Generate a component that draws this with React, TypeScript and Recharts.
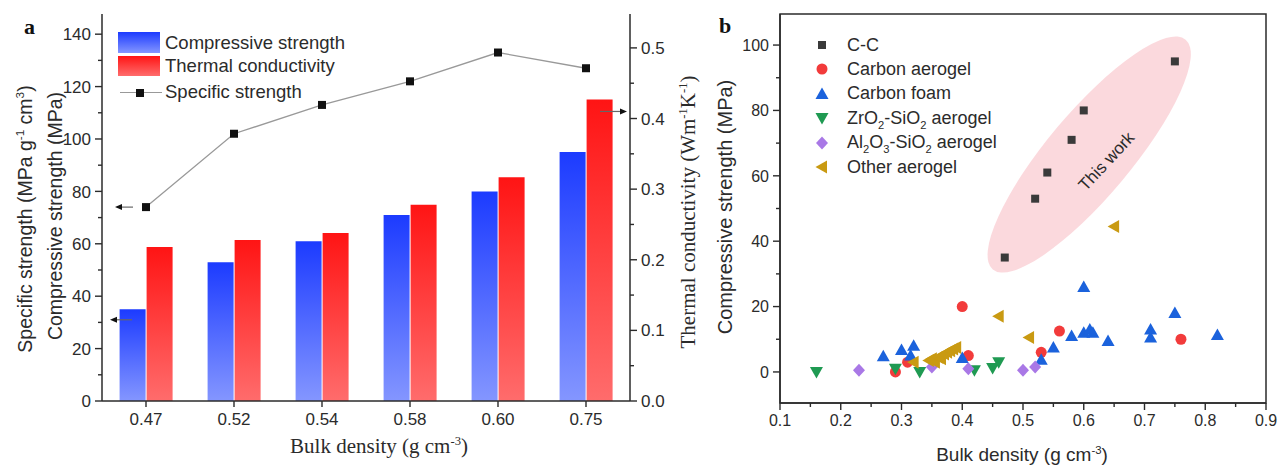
import React from "react";
import {
  ComposedChart,
  Bar,
  Line,
  XAxis,
  YAxis,
  ScatterChart,
  Scatter,
  ReferenceDot,
  ReferenceArea,
} from "recharts";

const SANS = "'Liberation Sans', Arial, sans-serif";
const SERIF = "'Liberation Serif', 'Times New Roman', serif";
const INK = "#2b2b2b";

// ---- panel a ----
const densities = ["0.47", "0.52", "0.54", "0.58", "0.60", "0.75"];
const compressive = [35, 53, 61, 71, 80, 95];
const thermal = [0.218, 0.228, 0.238, 0.278, 0.317, 0.427];
const specific = [74, 102, 113, 122, 133, 127];
const leftTicks = [0, 10, 20, 30, 40, 50, 60, 70, 80, 90, 100, 110, 120, 130, 140];
const rightTicks = [0, 0.05, 0.1, 0.15, 0.2, 0.25, 0.3, 0.35, 0.4, 0.45, 0.5];

// ---- panel b ----  [density, strength]
const ccPts = [[0.47, 35], [0.52, 53], [0.54, 61], [0.58, 71], [0.6, 80], [0.75, 95]];
const carbonAerogelPts = [[0.29, 0], [0.31, 3], [0.4, 20], [0.41, 5], [0.53, 6], [0.56, 12.5], [0.76, 10]];
const carbonFoamPts = [
  [0.27, 4.8], [0.3, 6.7], [0.315, 5], [0.32, 8], [0.4, 4.3], [0.53, 3.7], [0.55, 7.5],
  [0.58, 11], [0.6, 26], [0.6, 12], [0.61, 13], [0.615, 12], [0.64, 9.5], [0.71, 13],
  [0.71, 10.5], [0.75, 18], [0.82, 11.3],
];
const zrSiPts = [[0.16, 0], [0.29, 1], [0.33, 0], [0.42, 0.5], [0.45, 1.2], [0.46, 3]];
const alSiPts = [[0.23, 0.5], [0.35, 1.5], [0.41, 1], [0.5, 0.5], [0.52, 1.5]];
const otherPts = [
  [0.32, 3], [0.345, 3.5], [0.35, 4], [0.355, 3], [0.36, 4.5], [0.365, 4], [0.37, 5.5],
  [0.375, 6], [0.38, 6.5], [0.385, 7], [0.39, 7.5], [0.46, 17], [0.51, 10.5], [0.65, 44.5],
];
const xTicksB = [0.1, 0.15, 0.2, 0.25, 0.3, 0.35, 0.4, 0.45, 0.5, 0.55, 0.6, 0.65, 0.7, 0.75, 0.8, 0.85, 0.9];
const yTicksB = [0, 10, 20, 30, 40, 50, 60, 70, 80, 90, 100];

const barData = densities.map((d, i) => ({
  density: d,
  compressive: compressive[i],
  thermal: thermal[i],
  specific: specific[i],
}));

const toXY = (pts: number[][]) => pts.map(([x, y]) => ({ x, y }));

const COLORS = {
  cc: "#3a3a3a",
  carbonAerogel: "#f23b3b",
  carbonFoam: "#1b62dc",
  zrSi: "#1f9a52",
  alSi: "#a978e6",
  other: "#c99a12",
};

type Kind = "square" | "circle" | "up" | "down" | "diamond" | "left";

function Marker({ kind, cx, cy, color }: { kind: Kind; cx: number; cy: number; color: string }) {
  switch (kind) {
    case "square":
      return <rect x={cx - 4} y={cy - 4} width={8} height={8} fill={color} />;
    case "circle":
      return <circle cx={cx} cy={cy} r={5.5} fill={color} />;
    case "up":
      return <polygon points={`${cx},${cy - 6.5} ${cx - 6.5},${cy + 5} ${cx + 6.5},${cy + 5}`} fill={color} />;
    case "down":
      return <polygon points={`${cx},${cy + 6.5} ${cx - 6.5},${cy - 5} ${cx + 6.5},${cy - 5}`} fill={color} />;
    case "diamond":
      return <polygon points={`${cx},${cy - 6.5} ${cx + 6},${cy} ${cx},${cy + 6.5} ${cx - 6},${cy}`} fill={color} />;
    case "left":
      return <polygon points={`${cx - 6.5},${cy} ${cx + 5},${cy - 6.5} ${cx + 5},${cy + 6.5}`} fill={color} />;
  }
}

// vertical axis ticks (major with label, minor without)
function vTick(side: "left" | "right", isMajor: (v: number) => boolean, fmt: (v: number) => string, fontSize: number) {
  return (props: any) => {
    const { x, y, payload } = props;
    const v = payload.value as number;
    const major = isMajor(v);
    const len = major ? 7 : 4;
    const dir = side === "left" ? -1 : 1;
    return (
      <g>
        <line x1={x} y1={y} x2={x + dir * len} y2={y} stroke={INK} strokeWidth={1.4} />
        {major && (
          <text
            x={x + dir * (len + 4)}
            y={y}
            dy="0.36em"
            textAnchor={side === "left" ? "end" : "start"}
            fontSize={fontSize}
            fontFamily={SANS}
            fill={INK}
          >
            {fmt(v)}
          </text>
        )}
      </g>
    );
  };
}

function hTick(isMajor: (v: number) => boolean, fmt: (v: number) => string, fontSize: number) {
  return (props: any) => {
    const { x, y, payload } = props;
    const v = payload.value as number;
    const major = isMajor(v);
    const len = major ? 7 : 4;
    return (
      <g>
        <line x1={x} y1={y} x2={x} y2={y + len} stroke={INK} strokeWidth={1.4} />
        {major && (
          <text x={x} y={y + len + 4} dy="0.76em" textAnchor="middle" fontSize={fontSize} fontFamily={SANS} fill={INK}>
            {fmt(v)}
          </text>
        )}
      </g>
    );
  };
}

const arrow = (from: number, to: number) => (p: any) => {
  const y = p.cy;
  const x1 = p.cx + from;
  const x2 = p.cx + to;
  const dir = Math.sign(x2 - x1);
  return (
    <g>
      <line x1={x1} y1={y} x2={x2 - dir * 4} y2={y} stroke="#666" strokeWidth={1.2} />
      <polygon points={`${x2},${y} ${x2 - dir * 7},${y - 3} ${x2 - dir * 7},${y + 3}`} fill="#111" />
    </g>
  );
};

const sup = (t: string) => <sup style={{ fontSize: "0.6em", lineHeight: 0 }}>{t}</sup>;
const sub = (t: string) => <sub style={{ fontSize: "0.62em", lineHeight: 0 }}>{t}</sub>;

function Rotated({ x, y, children, style }: { x: number; y: number; children: React.ReactNode; style?: React.CSSProperties }) {
  return (
    <div
      style={{
        position: "absolute",
        left: x,
        top: y,
        transform: "translate(-50%, -50%) rotate(-90deg)",
        whiteSpace: "nowrap",
        color: INK,
        ...style,
      }}
    >
      {children}
    </div>
  );
}

function PanelA() {
  return (
    <div style={{ position: "absolute", left: 0, top: 0, width: 720, height: 468 }}>
      <ComposedChart
        width={720}
        height={468}
        data={barData}
        margin={{ top: 14, right: 0, bottom: 0, left: 0 }}
        barCategoryGap="20%"
        barGap={1}
      >
        <defs>
          <linearGradient id="gBlue" x1="0" y1="0" x2="0" y2="1">
            <stop offset="0%" stopColor="#1c3bff" />
            <stop offset="100%" stopColor="#8496ff" />
          </linearGradient>
          <linearGradient id="gRed" x1="0" y1="0" x2="0" y2="1">
            <stop offset="0%" stopColor="#ff1414" />
            <stop offset="100%" stopColor="#ff6c6c" />
          </linearGradient>
        </defs>
        <XAxis
          dataKey="density"
          height={67}
          tickSize={6}
          tickMargin={6}
          axisLine={{ stroke: INK, strokeWidth: 1.5 }}
          tickLine={{ stroke: INK, strokeWidth: 1.4 }}
          tick={{ fontSize: 17, fontFamily: SANS, fill: INK }}
          interval={0}
        />
        <XAxis
          xAxisId="top"
          dataKey="density"
          orientation="top"
          height={0}
          tick={false}
          tickLine={false}
          axisLine={{ stroke: INK, strokeWidth: 1.5 }}
        />
        <YAxis
          yAxisId="left"
          width={102}
          domain={[0, 147.7]}
          ticks={leftTicks}
          interval={0}
          tickSize={0}
          tickMargin={0}
          tickLine={false}
          axisLine={{ stroke: INK, strokeWidth: 1.5 }}
          tick={vTick("left", (v) => v % 20 === 0, (v) => String(v), 17)}
        />
        <YAxis
          yAxisId="right"
          orientation="right"
          width={90}
          domain={[0, 0.548]}
          ticks={rightTicks}
          interval={0}
          tickSize={0}
          tickMargin={0}
          tickLine={false}
          axisLine={{ stroke: INK, strokeWidth: 1.5 }}
          tick={vTick("right", (v) => Math.round(v * 100) % 10 === 0, (v) => v.toFixed(1), 17)}
        />
        <Bar yAxisId="left" dataKey="compressive" fill="url(#gBlue)" isAnimationActive={false} />
        <Bar yAxisId="right" dataKey="thermal" fill="url(#gRed)" isAnimationActive={false} />
        <Line
          yAxisId="left"
          dataKey="specific"
          stroke="#999"
          strokeWidth={1.3}
          isAnimationActive={false}
          dot={(p: any) => <rect key={p.index} x={p.cx - 4} y={p.cy - 4} width={8} height={8} fill="#111" />}
        />
        <ReferenceDot yAxisId="left" x="0.47" y={74} shape={arrow(-13, -31)} />
        <ReferenceDot yAxisId="left" x="0.47" y={31} shape={arrow(-14, -36)} />
        <ReferenceDot yAxisId="right" x="0.75" y={0.41} shape={arrow(14, 41)} />
      </ComposedChart>

      {/* legend */}
      <div style={{ position: "absolute", left: 118, top: 32, width: 42, height: 21, background: "linear-gradient(#1c3bff, #8496ff)" }} />
      <div style={{ position: "absolute", left: 118, top: 56, width: 42, height: 20, background: "linear-gradient(#ff1414, #ff6c6c)" }} />
      <div style={{ position: "absolute", left: 120, top: 92, width: 42, height: 1.3, background: "#999" }} />
      <div style={{ position: "absolute", left: 136, top: 88.5, width: 8, height: 8, background: "#111" }} />
      {[
        ["Compressive strength", 43],
        ["Thermal conductivity", 66],
        ["Specific strength", 92],
      ].map(([t, y]) => (
        <div
          key={t as string}
          style={{
            position: "absolute",
            left: 165,
            top: (y as number) - 11,
            fontFamily: SANS,
            fontSize: 18.5,
            lineHeight: "22px",
            color: INK,
            whiteSpace: "nowrap",
          }}
        >
          {t}
        </div>
      ))}

      <div style={{ position: "absolute", left: 24, top: 14, fontFamily: SERIF, fontWeight: 700, fontSize: 22, color: "#111" }}>a</div>
      <Rotated x={25} y={219} style={{ fontFamily: SANS, fontSize: 19.5 }}>
        Specific strength (MPa g{sup("-1")} cm{sup("3")})
      </Rotated>
      <Rotated x={55} y={216} style={{ fontFamily: SANS, fontSize: 19.5 }}>
        Compressive strength (MPa)
      </Rotated>
      <Rotated x={688} y={212} style={{ fontFamily: SERIF, fontSize: 21 }}>
        Thermal conductivity (Wm{sup("-1")}K{sup("-1")})
      </Rotated>
      <div
        style={{
          position: "absolute",
          left: 379,
          top: 446,
          transform: "translate(-50%, -50%)",
          fontFamily: SERIF,
          fontSize: 21,
          color: INK,
          whiteSpace: "nowrap",
        }}
      >
        Bulk density (g cm{sup("-3")})
      </div>
    </div>
  );
}

const seriesB: { name: React.ReactNode; key: string; pts: number[][]; kind: Kind; color: string }[] = [
  { name: "C-C", key: "cc", pts: ccPts, kind: "square", color: COLORS.cc },
  { name: "Carbon aerogel", key: "ca", pts: carbonAerogelPts, kind: "circle", color: COLORS.carbonAerogel },
  { name: "Carbon foam", key: "cf", pts: carbonFoamPts, kind: "up", color: COLORS.carbonFoam },
  {
    name: (
      <>
        ZrO{sub("2")}-SiO{sub("2")} aerogel
      </>
    ),
    key: "zr",
    pts: zrSiPts,
    kind: "down",
    color: COLORS.zrSi,
  },
  {
    name: (
      <>
        Al{sub("2")}O{sub("3")}-SiO{sub("2")} aerogel
      </>
    ),
    key: "al",
    pts: alSiPts,
    kind: "diamond",
    color: COLORS.alSi,
  },
  { name: "Other aerogel", key: "ot", pts: otherPts, kind: "left", color: COLORS.other },
];

function PanelB() {
  return (
    <div style={{ position: "absolute", left: 700, top: 0, width: 585, height: 468 }}>
      <ScatterChart width={585} height={468} margin={{ top: 14, right: 19, bottom: 0, left: 0 }}>
        <XAxis
          type="number"
          dataKey="x"
          domain={[0.1, 0.9]}
          ticks={xTicksB}
          interval={0}
          height={65}
          tickSize={0}
          tickMargin={0}
          tickLine={false}
          axisLine={{ stroke: INK, strokeWidth: 1.5 }}
          tick={hTick((v) => Math.abs(v * 10 - Math.round(v * 10)) < 1e-6, (v) => v.toFixed(1), 16)}
        />
        <YAxis
          type="number"
          dataKey="y"
          domain={[-9.5, 109.5]}
          ticks={yTicksB}
          interval={0}
          width={80}
          tickSize={0}
          tickMargin={0}
          tickLine={false}
          axisLine={{ stroke: INK, strokeWidth: 1.5 }}
          tick={vTick("left", (v) => v % 20 === 0, (v) => String(v), 16)}
        />
        <ReferenceArea x1={0.1} x2={0.9} y1={-9.5} y2={109.5} fill="none" stroke={INK} strokeWidth={1.5} />
        <ReferenceDot
          x={0.609}
          y={66.5}
          shape={(p: any) => (
            <ellipse
              cx={p.cx}
              cy={p.cy}
              rx={150}
              ry={42}
              fill="#f06e7c"
              fillOpacity={0.26}
              transform={`rotate(-50 ${p.cx} ${p.cy})`}
            />
          )}
        />
        {seriesB.map((s) => (
          <Scatter
            key={s.key}
            data={toXY(s.pts)}
            isAnimationActive={false}
            shape={(p: any) => <Marker kind={s.kind} cx={p.cx} cy={p.cy} color={s.color} />}
          />
        ))}
        <ReferenceDot
          x={0.637}
          y={64.5}
          shape={(p: any) => (
            <text
              x={p.cx}
              y={p.cy}
              dy="0.35em"
              textAnchor="middle"
              fontSize={17}
              fontFamily={SANS}
              fill={INK}
              transform={`rotate(-47 ${p.cx} ${p.cy})`}
            >
              This work
            </text>
          )}
        />
      </ScatterChart>

      {/* legend */}
      {seriesB.map((s, i) => (
        <div
          key={s.key}
          style={{
            position: "absolute",
            left: 110,
            top: 45 + i * 24.4 - 12,
            height: 24,
            display: "flex",
            alignItems: "center",
            whiteSpace: "nowrap",
            fontFamily: SANS,
            fontSize: 18,
            color: INK,
          }}
        >
          <svg width={24} height={24} style={{ marginRight: 13 }}>
            <Marker kind={s.kind} cx={12} cy={12} color={s.color} />
          </svg>
          <span>{s.name}</span>
        </div>
      ))}

      <div style={{ position: "absolute", left: 19, top: 13, fontFamily: SERIF, fontWeight: 700, fontSize: 22, color: "#111" }}>b</div>
      <Rotated x={25} y={207} style={{ fontFamily: SANS, fontSize: 20 }}>
        Compressive strength (MPa)
      </Rotated>
      <div
        style={{
          position: "absolute",
          left: 322,
          top: 455,
          transform: "translate(-50%, -50%)",
          fontFamily: SANS,
          fontSize: 19,
          color: INK,
          whiteSpace: "nowrap",
        }}
      >
        Bulk density (g cm{sup("-3")})
      </div>
    </div>
  );
}

export default function App() {
  return (
    <div style={{ position: "relative", width: 1285, height: 468, background: "#fff", overflow: "hidden" }}>
      <style>{"body{margin:0}"}</style>
      <PanelA />
      <PanelB />
    </div>
  );
}
